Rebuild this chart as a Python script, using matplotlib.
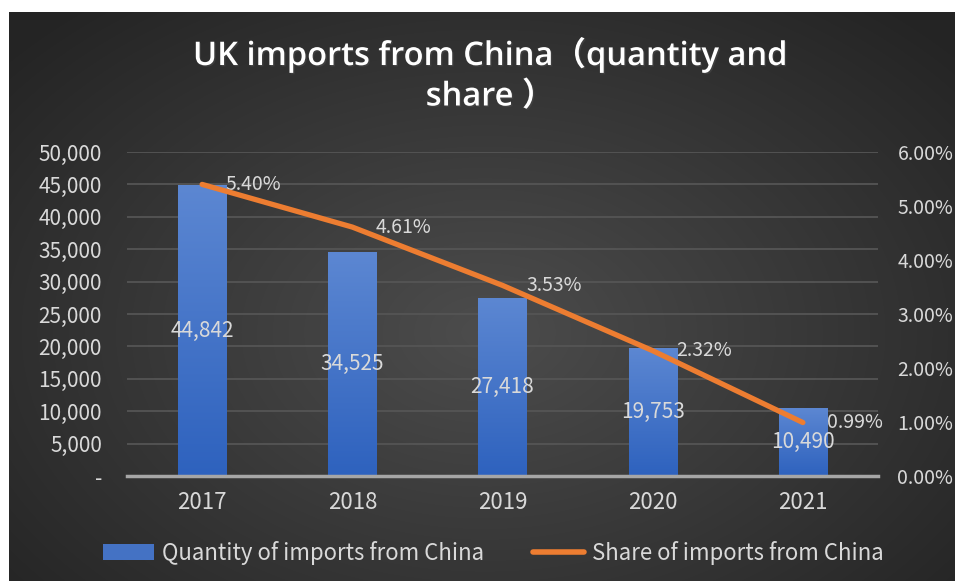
import numpy as np
import matplotlib
matplotlib.use('Agg')
import matplotlib.pyplot as plt
from matplotlib.patches import Patch
from matplotlib.lines import Line2D
from matplotlib.ticker import FuncFormatter, MultipleLocator
import matplotlib.patheffects as pe

# 数据
years = ['2017', '2018', '2019', '2020', '2021']
quantity = [44842, 34525, 27418, 19753, 10490]
share = [5.40, 4.61, 3.53, 2.32, 0.99]

plt.rcParams['font.family'] = ['Noto Sans CJK SC', 'DejaVu Sans']
txt_color = '#d9d9d9'

fig = plt.figure(figsize=(9.55, 5.81), dpi=100)
fig.patch.set_facecolor('white')

# 背景径向渐变
bg = fig.add_axes([9 / 955, 0, 946 / 955, 569 / 581])
yy, xx = np.mgrid[0:569, 0:946]
r = np.sqrt(((xx - 475) / 620) ** 2 + ((yy - 320) / 420) ** 2)
r = np.clip(r, 0, 1)
g = 0.30 - 0.155 * r
bg.imshow(np.dstack([g, g, g]), aspect='auto', extent=[0, 1, 0, 1])
bg.set_axis_off()

ax = fig.add_axes([127 / 955, 1 - 476 / 581, 751 / 955, 324 / 581])
ax.patch.set_alpha(0)
x = np.arange(len(years))

# 渐变柱
grad = np.linspace(0, 1, 256).reshape(-1, 1)
top_c = np.array([0x5c, 0x87, 0xd2]) / 255
bot_c = np.array([0x2e, 0x62, 0xbe]) / 255
img = bot_c[None, None, :] * (1 - grad[:, :, None]) + top_c[None, None, :] * grad[:, :, None]
bars = ax.bar(x, quantity, width=0.32, color='none', zorder=2)
for b in bars:
    im = ax.imshow(img, aspect='auto', origin='lower',
                   extent=[b.get_x(), b.get_x() + b.get_width(), 0, b.get_height()], zorder=2)
    im.set_clip_path(b)
ax.set_xlim(-0.5, 4.5)
ax.set_ylim(0, 50000)
ax.yaxis.set_major_locator(MultipleLocator(5000))
ax.yaxis.set_major_formatter(FuncFormatter(lambda v, p: '-' if v == 0 else f'{int(v):,}'))
ax.grid(axis='y', color='#555555', lw=1.3, zorder=0)
for s in ['top', 'right', 'left']:
    ax.spines[s].set_visible(False)
ax.spines['bottom'].set_color('#a6a6a6')
ax.spines['bottom'].set_linewidth(2.5)
ax.spines['bottom'].set_zorder(3)
ax.set_xticks(x)
ax.set_xticklabels(years)
ax.tick_params(axis='both', length=0, colors=txt_color)
ax.tick_params(axis='y', pad=18, labelsize=15)
ax.tick_params(axis='x', pad=11, labelsize=16)

for xi, q in zip(x, quantity):
    ax.text(xi, q / 2, f'{q:,}', ha='center', va='center', color=txt_color, fontsize=15, zorder=5)

# 占比折线
ax2 = ax.twinx()
ax2.set_ylim(0, 6)
ax2.yaxis.set_major_locator(MultipleLocator(1))
ax2.yaxis.set_major_formatter(FuncFormatter(lambda v, p: f'{v:.2f}%'))
for s in ax2.spines.values():
    s.set_visible(False)
ax2.tick_params(axis='y', length=0, colors=txt_color, labelsize=14, pad=14)
ax2.plot(x, share, color='#ed7d31', lw=3.8, solid_capstyle='round', zorder=4)
for xi, s in zip(x, share):
    ax2.annotate(f'{s:.2f}%', (xi, s), xytext=(17, 0), textcoords='offset points',
                 ha='left', va='center', color=txt_color, fontsize=14)

# 标题
title_font = ['Open Sans', 'Noto Sans CJK SC', 'DejaVu Sans']
shadow = [pe.withSimplePatchShadow(offset=(1, -1), alpha=0.5)]
fig.text(490 / 955, 1 - 55 / 581, 'UK imports from China（quantity and', ha='center', va='center',
         color='white', fontsize=23.5, family=title_font, weight='semibold', path_effects=shadow)
fig.text(490 / 955, 1 - 97 / 581, 'share ）', ha='center', va='center',
         color='white', fontsize=23.5, family=title_font, weight='semibold', path_effects=shadow)

# 图例
handles = [Patch(facecolor='#4472c4', edgecolor='none'),
           Line2D([0], [0], color='#ed7d31', lw=4, solid_capstyle='round')]
fig.legend(handles, ['Quantity of imports from China', 'Share of imports from China'],
           loc='center', bbox_to_anchor=(493 / 955, 1 - 553 / 581), ncol=2, frameon=False,
           fontsize=16, labelcolor=txt_color, handlelength=2.3, columnspacing=2.2, handletextpad=0.35)

fig.savefig('out.png', dpi=100, facecolor=fig.get_facecolor())
